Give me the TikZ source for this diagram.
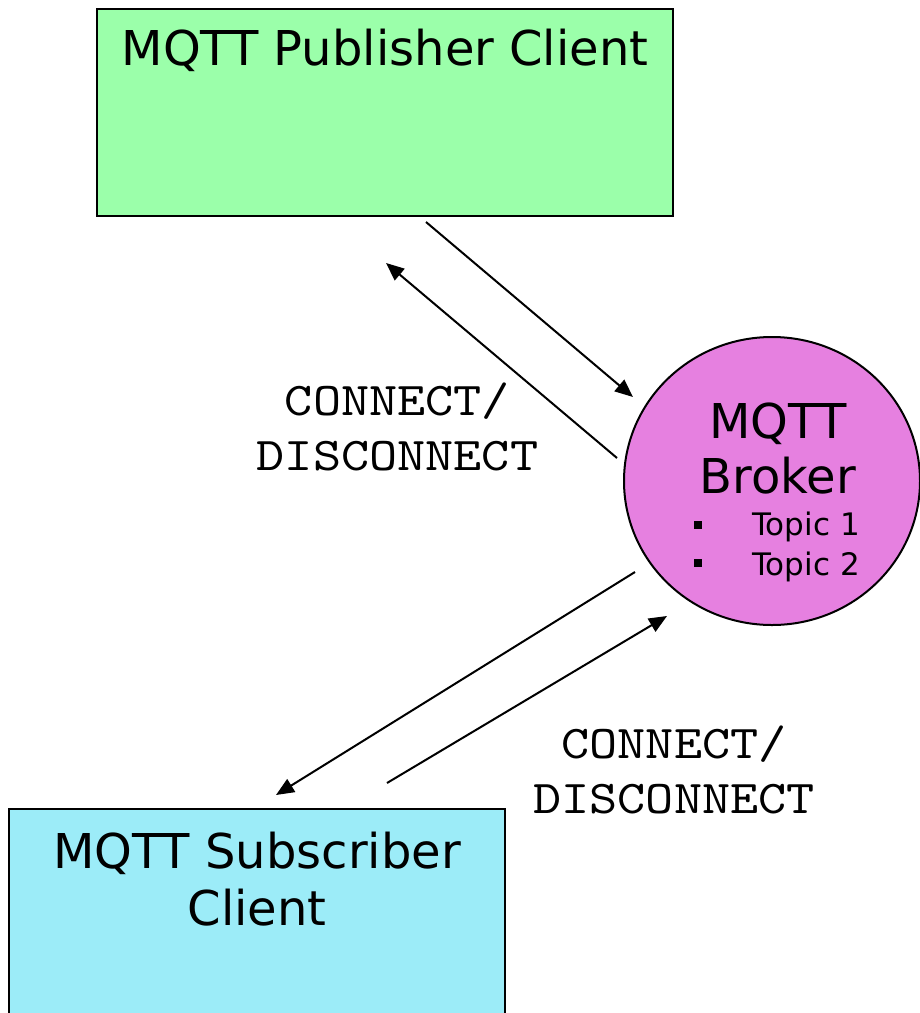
\documentclass[tikz,border=0pt]{standalone}
\usepackage{fontspec}
\setmainfont{DejaVu Sans}
\newfontfamily\labelmono[FakeStretch=1.14]{lmmono10-regular.otf}
\usetikzlibrary{arrows.meta,shapes.geometric}
\definecolor{pubgreen}{RGB}{155,255,170}
\definecolor{subcyan}{RGB}{156,236,248}
\definecolor{brokerpink}{RGB}{230,128,224}

\begin{document}
\begin{tikzpicture}[x=1pt,y=-1pt,
  box/.style={draw=black, line width=2pt, inner sep=0pt},
  bigtext/.style={font=\fontsize{48}{57}\selectfont, align=center, inner sep=0pt, anchor=base},
  monolabel/.style={font=\labelmono\fontsize{47}{55}\selectfont, align=center, inner sep=0pt, anchor=base},
  topic/.style={font=\fontsize{31}{40}\selectfont, inner sep=0pt, anchor=base west},
  bulletsq/.style={fill=black, minimum size=8pt, inner sep=0pt},
  link/.style={line width=2pt, -{Triangle[length=18pt,width=15pt]}}
]
\useasboundingbox (0,0) rectangle (920,1013);
\clip (0,0) rectangle (920,1013);

% clients and broker
\node[box, fill=pubgreen, minimum width=576pt, minimum height=207pt] (pub) at (385,112.5) {};
\node[box, fill=subcyan, minimum width=496pt, minimum height=230pt] (sub) at (257,924) {};
\node[draw=black, line width=2pt, fill=brokerpink, ellipse, minimum width=296pt, minimum height=288pt, inner sep=0pt] (broker) at (772,481) {};

% texts (multi-line nodes sit on the baseline of their last line)
\node[bigtext] (pubtext) at (385,65) {MQTT Publisher Client};
\node[bigtext] (subtext) at (257,925) {MQTT Subscriber\\Client};
\node[bigtext, font=\fontsize{48}{55}\selectfont] (brokertext) at (778,493) {MQTT\\Broker};
\node[bulletsq] (bul1) at (698,525) {};
\node[bulletsq] (bul2) at (698,563) {};
\node[topic] (topic1) at (752,535) {Topic 1};
\node[topic] (topic2) at (752,575) {Topic 2};
\node[monolabel] (lblpub) at (397.5,470) {CONNECT/\\DISCONNECT};
\node[monolabel] (lblsub) at (674,813) {CONNECT/\\DISCONNECT};

% connector end points
\coordinate (pubout) at (426,222);
\coordinate (brokin1) at (633,397);
\coordinate (brokout1) at (617,458);
\coordinate (pubin) at (386,263);
\coordinate (brokout2) at (635,572);
\coordinate (subin) at (276,795);
\coordinate (subout) at (387,783);
\coordinate (brokin2) at (667,616);

% connectors
\draw[link] (pubout) -- (brokin1);
\draw[link] (brokout1) -- (pubin);
\draw[link] (brokout2) -- (subin);
\draw[link] (subout) -- (brokin2);
\end{tikzpicture}
\end{document}
